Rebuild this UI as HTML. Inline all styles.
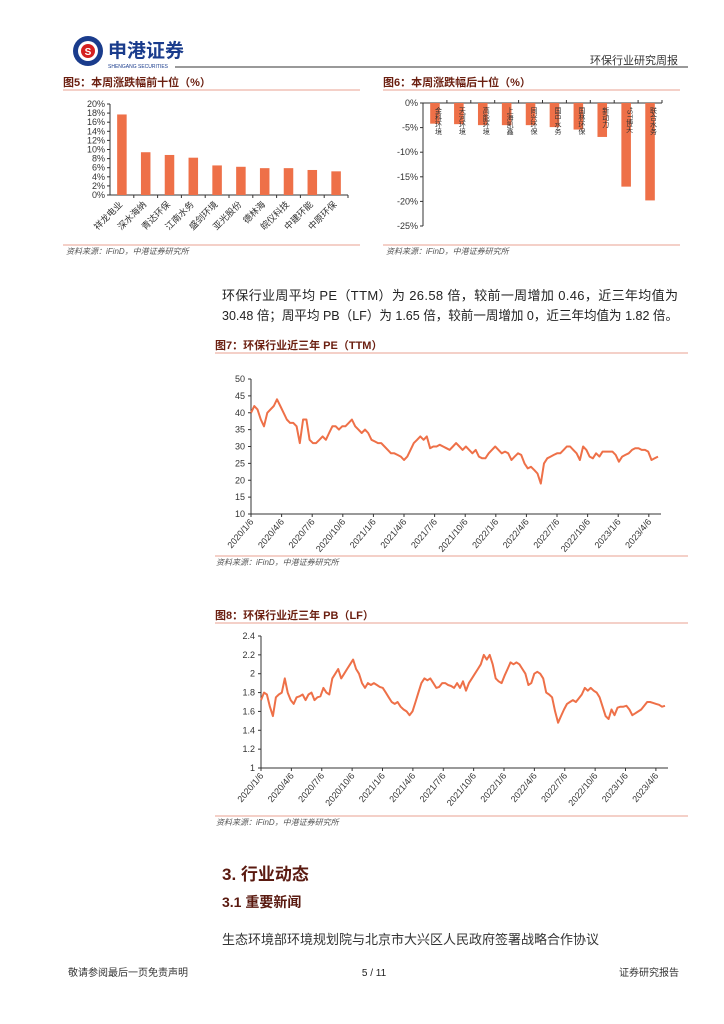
<!DOCTYPE html>
<html><head><meta charset="utf-8"><style>
body{margin:0;width:724px;height:1024px;background:#fff;font-family:"Liberation Sans","Noto Sans CJK SC",sans-serif;position:relative;overflow:hidden}
</style></head><body>
<svg id="pg" width="724" height="1024" style="position:absolute;left:0;top:0" font-family="Liberation Sans, Noto Sans CJK SC, sans-serif">
<g>
<circle cx="88" cy="51" r="15" fill="#1a3c8c"/><circle cx="88" cy="51" r="10" fill="#fff"/><circle cx="88" cy="51" r="7" fill="#d42020"/>
<text x="92" y="55" font-size="10" fill="#fff" font-weight="bold" text-anchor="middle" dx="-4">S</text>
<text x="108" y="57" font-size="19" font-weight="bold" fill="#1a3c8c">申港证券</text>
<text x="108" y="68" font-size="5" fill="#1a3c8c">SHENGANG SECURITIES</text>
</g>
<line x1="175" y1="67" x2="688" y2="67" stroke="#333" stroke-width="1"/>
<text x="678" y="64" font-size="11" fill="#333" text-anchor="end">环保行业研究周报</text>

<text x="63" y="86" font-size="11" font-weight="bold" fill="#6b1f10">图5：本周涨跌幅前十位（%）</text>
<line x1="63" y1="90" x2="360" y2="90" stroke="#e8a090"/>
<g id="f5"></g>
<line x1="63" y1="245" x2="360" y2="245" stroke="#e8a090"/>
<text x="66" y="254" font-size="8" font-style="italic" fill="#555">资料来源：iFinD，中港证券研究所</text>

<text x="383" y="86" font-size="11" font-weight="bold" fill="#6b1f10">图6：本周涨跌幅后十位（%）</text>
<line x1="383" y1="90" x2="680" y2="90" stroke="#e8a090"/>
<g id="f6"></g>
<line x1="383" y1="245" x2="680" y2="245" stroke="#e8a090"/>
<text x="386" y="254" font-size="8" font-style="italic" fill="#555">资料来源：iFinD，中港证券研究所</text>

<text x="222" y="300" font-size="13" fill="#222" textLength="456">环保行业周平均 PE（TTM）为 26.58 倍，较前一周增加 0.46，近三年均值为</text>
<text x="222" y="320" font-size="13" fill="#222" textLength="456" lengthAdjust="spacingAndGlyphs">30.48 倍；周平均 PB（LF）为 1.65 倍，较前一周增加 0，近三年均值为 1.82 倍。</text>

<text x="215" y="349" font-size="11" font-weight="bold" fill="#6b1f10">图7：环保行业近三年 PE（TTM）</text>
<line x1="215" y1="353" x2="688" y2="353" stroke="#e8a090"/>
<g id="f7"></g>
<line x1="215" y1="556" x2="688" y2="556" stroke="#e8a090"/>
<text x="216" y="565" font-size="8" font-style="italic" fill="#555">资料来源：iFinD，中港证券研究所</text>

<text x="215" y="619" font-size="11" font-weight="bold" fill="#6b1f10">图8：环保行业近三年 PB（LF）</text>
<line x1="215" y1="623" x2="688" y2="623" stroke="#e8a090"/>
<g id="f8"></g>
<line x1="215" y1="816" x2="688" y2="816" stroke="#e8a090"/>
<text x="216" y="825" font-size="8" font-style="italic" fill="#555">资料来源：iFinD，中港证券研究所</text>

<text x="222" y="880" font-size="17" font-weight="bold" fill="#5a1a10">3. 行业动态</text>
<text x="222" y="907" font-size="14" font-weight="bold" fill="#5a1a10">3.1 重要新闻</text>
<text x="222" y="944" font-size="13" fill="#333">生态环境部环境规划院与北京市大兴区人民政府签署战略合作协议</text>
<text x="68" y="976" font-size="10" fill="#333">敬请参阅最后一页免责声明</text>
<text x="374" y="976" font-size="10" fill="#222" text-anchor="middle">5 / 11</text>
<text x="679" y="976" font-size="10" fill="#333" text-anchor="end">证券研究报告</text>
</svg>
<script>
const NS="http://www.w3.org/2000/svg";
const top5Names=["祥龙电业","深水海纳","青达环保","江南水务","盛剑环境","亚光股份","德林海","皖仪科技","中建环能","中原环保"];
const top5Vals=[17.7,9.4,8.8,8.2,6.5,6.2,5.9,5.9,5.5,5.2];
const top5Ticks=[0,2,4,6,8,10,12,14,16,18,20];
const bot5Names=["金科环境","天河环境","高能环境","上海凯鑫","同兴环保","国中水务","国林环保","新动力","*ST博天","联合水务"];
const bot5Vals=[-4.2,-4.3,-4.5,-4.5,-4.5,-4.9,-5.4,-6.9,-17.0,-19.8];
const bot5Ticks=[0,-5,-10,-15,-20,-25];
const quarterLabels=["2020/1/6","2020/4/6","2020/7/6","2020/10/6","2021/1/6","2021/4/6","2021/7/6","2021/10/6","2022/1/6","2022/4/6","2022/7/6","2022/10/6","2023/1/6","2023/4/6"];
const peTicks=[10,15,20,25,30,35,40,45,50];
const peVals=[40,42,41,38,36,40,41,42,44,42,40,38,37,37,36,31,38,38,32,31,31,32,33,32,34,36,36,35,36,36,37,38,36,35,34,35,34,32,31.5,31,31,30,29,28,28,27.5,27,26,27,29,31,32,33,32,33,29.5,30,30,30.5,30,29.5,29,30,31,30,29,30,29,28,29,27,26.5,26.5,28,29,30,29,28,28.5,28,26,27,28,27.5,25,23.5,24,23,22,19,25,26.5,27,27.5,28,28,29,30,30,29,28,26,30,29,27,26.5,28,27,28.5,28.5,28.5,28.5,27.5,25.5,27,27.5,28,29,29.5,29.5,29,29,28.5,26,26.5,27];
const pbTicks=[1,1.2,1.4,1.6,1.8,2,2.2,2.4];
const pbVals=[1.72,1.8,1.78,1.65,1.55,1.75,1.78,1.8,1.95,1.8,1.72,1.68,1.75,1.76,1.78,1.72,1.78,1.8,1.72,1.75,1.76,1.85,1.8,1.78,1.95,2.0,2.05,1.95,2.0,2.05,2.1,2.15,2.05,2.0,1.9,1.85,1.9,1.88,1.9,1.88,1.86,1.85,1.8,1.75,1.7,1.68,1.7,1.65,1.62,1.6,1.56,1.6,1.7,1.8,1.9,1.95,1.93,1.95,1.9,1.85,1.86,1.9,1.9,1.88,1.87,1.85,1.9,1.85,1.92,1.82,1.9,1.95,2.0,2.05,2.1,2.2,2.15,2.2,2.1,1.95,1.92,1.9,1.98,2.05,2.12,2.1,2.12,2.1,2.05,2.0,1.88,1.9,2.0,2.02,2.0,1.95,1.8,1.78,1.75,1.6,1.48,1.55,1.62,1.68,1.7,1.72,1.7,1.74,1.78,1.85,1.82,1.85,1.82,1.8,1.75,1.65,1.55,1.52,1.62,1.56,1.64,1.65,1.65,1.66,1.62,1.56,1.58,1.6,1.62,1.66,1.7,1.7,1.69,1.68,1.67,1.65,1.66];
const ORANGE="#ee7048";
function mk(p,tag,at){const e=document.createElementNS(NS,tag);for(const k in at)e.setAttribute(k,at[k]);p.appendChild(e);return e;}

(function(){const g=document.getElementById('f5');const x0=110,x1=348,y0=195,y1=104;
const ys=v=>y0-(v-0)/(20-0)*(y0-y1);const w=(x1-x0)/top5Vals.length;
mk(g,'line',{x1:x0,y1:y1,x2:x0,y2:y0,stroke:'#333'});mk(g,'line',{x1:x0,y1:y0,x2:x1,y2:y0,stroke:'#333'});
top5Ticks.forEach(t=>{mk(g,'line',{x1:x0-3,y1:ys(t),x2:x0,y2:ys(t),stroke:'#333'});const tx=mk(g,'text',{x:x0-5,y:ys(t)+3,'font-size':9,'text-anchor':'end',fill:'#333'});tx.textContent=t+'%';});
top5Vals.forEach((v,i)=>{const b=mk(g,'rect',{x:x0+i*w+w*0.3,y:ys(v),width:w*0.4,height:ys(0)-ys(v),fill:ORANGE});


mk(g,'line',{x1:x0+(i+1)*w,y1:y0,x2:x0+(i+1)*w,y2:y0+3,stroke:'#333'});
const cx=x0+i*w+w*0.55;const t=mk(g,'text',{x:cx,y:y0+10,'font-size':9,'text-anchor':'end',fill:'#333',transform:`rotate(-45 ${cx} ${y0+10})`});t.textContent=top5Names[i];});
})();
(function(){const g=document.getElementById('f6');const x0=423,x1=662,y0=103,y1=226;
const ys=v=>y0+(0-v)/25*(y1-y0);const w=(x1-x0)/bot5Vals.length;
mk(g,'line',{x1:x0,y1:y0,x2:x0,y2:y1,stroke:'#333'});mk(g,'line',{x1:x0,y1:y0,x2:x1,y2:y0,stroke:'#333'});
bot5Ticks.forEach(t=>{mk(g,'line',{x1:x0-3,y1:ys(t),x2:x0,y2:ys(t),stroke:'#333'});const tx=mk(g,'text',{x:x0-5,y:ys(t)+3,'font-size':9,'text-anchor':'end',fill:'#333'});tx.textContent=t+'%';});
bot5Vals.forEach((v,i)=>{const b=mk(g,'rect',{x:x0+i*w+w*0.3,y:ys(0),width:w*0.4,height:ys(v)-ys(0),fill:ORANGE});


mk(g,'line',{x1:x0+(i+1)*w,y1:y0,x2:x0+(i+1)*w,y2:y0-3,stroke:'#333'});
const cx=x0+i*w+w*0.5;const t=mk(g,'text',{x:cx+3,y:y0+4,'font-size':7,fill:'#333','writing-mode':'tb'});t.textContent=bot5Names[i];});
})();
function lineChart(id,vals,ticks,lo,hi,x0,x1,y0,y1,name){const g=document.getElementById(id);
const ys=v=>y0-(v-lo)/(hi-lo)*(y0-y1);
mk(g,'line',{x1:x0,y1:y1,x2:x0,y2:y0,stroke:'#333'});mk(g,'line',{x1:x0,y1:y0,x2:x1+3,y2:y0,stroke:'#333'});
ticks.forEach(t=>{mk(g,'line',{x1:x0-3,y1:ys(t),x2:x0,y2:ys(t),stroke:'#333'});const tx=mk(g,'text',{x:x0-6,y:ys(t)+3,'font-size':9,'text-anchor':'end',fill:'#333'});tx.textContent=String(t);});
const qw=(x1-x0)/13.3;
quarterLabels.forEach((l,i)=>{const x=x0+i*qw;mk(g,'line',{x1:x,y1:y0,x2:x,y2:y0+3,stroke:'#333'});
const t=mk(g,'text',{x:x+3,y:y0+8,'font-size':9,'text-anchor':'end',fill:'#333',transform:`rotate(-50 ${x+3} ${y0+8})`});t.textContent=l;});
const n=vals.length;const pts=vals.map((v,i)=>(x0+i/(n-1)*(x1-x0)).toFixed(1)+','+ys(v).toFixed(1)).join(' ');
const p=mk(g,'polyline',{points:pts,fill:'none',stroke:ORANGE,'stroke-width':2,'stroke-linejoin':'round'});

}
lineChart('f7',peVals,peTicks,10,50,251,658,514,379,'pe-line');
lineChart('f8',pbVals,pbTicks,1,2.4,261,665,768,636,'pb-line');
</script>
</body></html>
